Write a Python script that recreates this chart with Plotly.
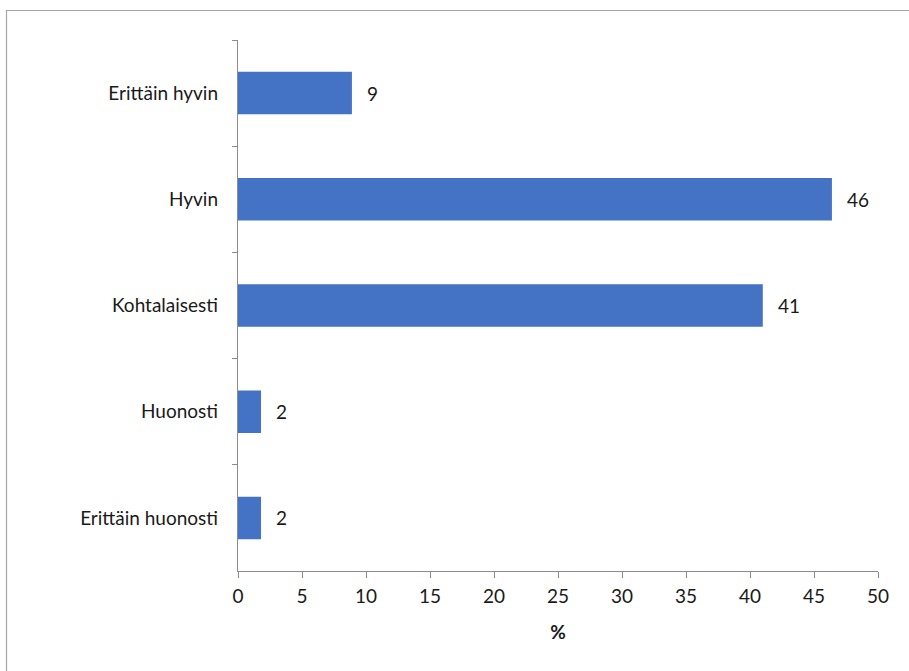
import plotly.graph_objects as go

# Response categories, listed top to bottom
categories = ["Erittäin hyvin", "Hyvin", "Kohtalaisesti", "Huonosti", "Erittäin huonosti"]
# Share of respondents (%)
shares = [8.9, 46.4, 41.0, 1.8, 1.8]
x_ticks = [0, 5, 10, 15, 20, 25, 30, 35, 40, 45, 50]

W, H = 909, 671
ML, MR, MT, MB = 238, 31, 40, 100
plot_w = W - ML - MR
plot_h = H - MT - MB

FONT = "Lato"
FS = 19
TEXT_COLOR = "#1a1a1a"
AXIS_COLOR = "#8c8c8c"

fig = go.Figure(
    go.Bar(
        x=shares,
        y=categories,
        orientation="h",
        marker=dict(color="#4472C4", line=dict(width=0)),
        width=0.4,
        hoverinfo="skip",
    )
)

# Value labels next to the bar ends
for cat, val in zip(categories, shares):
    fig.add_annotation(
        x=val, y=cat, xref="x", yref="y",
        text=f"{val:.0f}", showarrow=False,
        xanchor="left", yanchor="middle", xshift=13,
        font=dict(family=FONT, size=FS, color=TEXT_COLOR),
    )

# Thin frame around the chart area
fig.add_shape(
    type="rect", xref="paper", yref="paper",
    x0=(6.5 - ML) / plot_w, x1=(W + 20 - ML) / plot_w,
    y0=-(H + 20 - MT - plot_h) / plot_h, y1=1 + (MT - 10.5) / plot_h,
    line=dict(color="#a6a6a6", width=1.2),
    fillcolor="rgba(0,0,0,0)", layer="below",
)

fig.update_layout(
    width=W, height=H,
    margin=dict(l=ML, r=MR, t=MT, b=MB),
    paper_bgcolor="white", plot_bgcolor="white",
    showlegend=False,
    font=dict(family=FONT, size=FS, color=TEXT_COLOR),
    xaxis=dict(
        range=[0, 50], tickvals=x_ticks, ticktext=[str(t) for t in x_ticks],
        showgrid=False, zeroline=False,
        showline=True, linecolor=AXIS_COLOR, linewidth=1.3,
        ticks="outside", ticklen=6, tickcolor=AXIS_COLOR, tickwidth=1.3,
        ticklabelstandoff=2,
        tickfont=dict(family=FONT, size=FS, color=TEXT_COLOR),
        title=dict(text="<b>%</b>", font=dict(family=FONT, size=FS, color=TEXT_COLOR), standoff=19),
    ),
    yaxis=dict(
        categoryorder="array", categoryarray=categories,
        range=[4.5, -0.5],
        showgrid=False, zeroline=False,
        showline=True, linecolor=AXIS_COLOR, linewidth=1.3,
        ticks="outside", ticklen=5, tickcolor=AXIS_COLOR, tickwidth=1.3,
        tickson="boundaries",
        ticklabelstandoff=15,
        tickfont=dict(family=FONT, size=FS, color=TEXT_COLOR),
    ),
)

fig.write_html("out.html")
